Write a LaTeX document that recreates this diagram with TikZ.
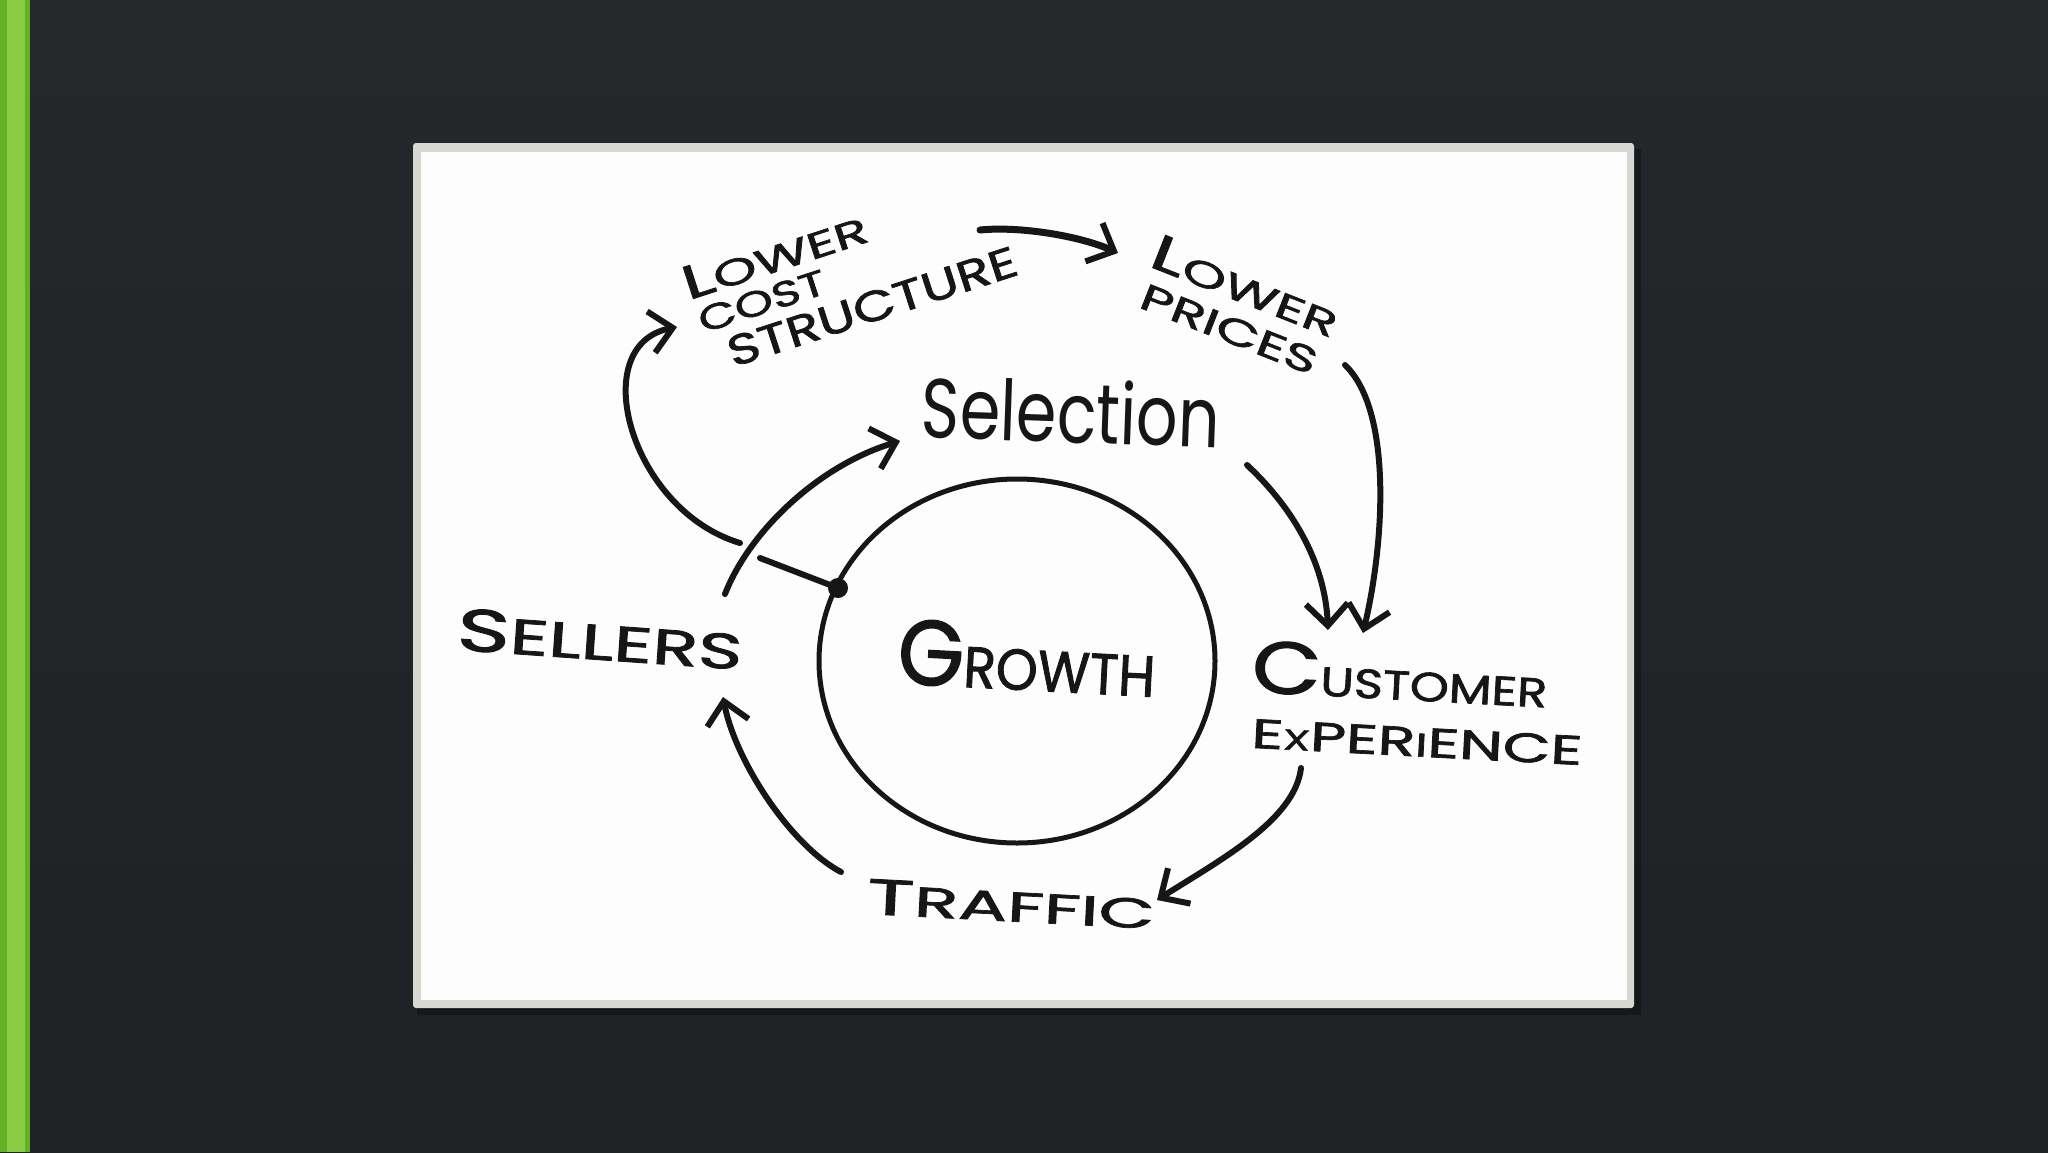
\documentclass[tikz,border=0pt]{standalone}
\usepackage{fontspec}
\usepackage{graphicx}
\setmainfont{Poppins}
\newfontfamily\handfont{Poppins}[FakeBold=1.6]
\newfontfamily\handthin{Poppins}
\usetikzlibrary{arrows.meta,shapes.geometric}
\definecolor{bgtop}{HTML}{25272B}
\definecolor{bgmid}{HTML}{2C2E32}
\definecolor{bgbot}{HTML}{1F2124}
\definecolor{greenA}{HTML}{62B223}
\definecolor{greenB}{HTML}{88CC44}
\definecolor{cardedge}{HTML}{D6D8D2}
\definecolor{paper}{HTML}{FDFDFD}
\definecolor{inkc}{HTML}{161616}
\newcommand\fitto[3]{\resizebox{#1pt}{#2pt}{#3}}
\begin{document}
\begin{tikzpicture}[x=1pt,y=-1pt,
  ink/.style={draw=inkc, line width=6pt, line cap=round, line join=round},
  arr/.style={ink, -{Straight Barb[length=22pt,width=42pt,line width=6pt]}},
  lbl/.style={inner sep=0pt, outer sep=0pt, text=inkc, font=\handfont},
  lblthin/.style={inner sep=0pt, outer sep=0pt, text=inkc, font=\handthin}]
% background
\useasboundingbox (0,0) rectangle (2048,1152);
\shade[top color=bgtop, middle color=bgmid, bottom color=bgbot] (0,0) rectangle (2048,1152);
\fill[greenA] (0,0) rectangle (30,1152);
\fill[greenB] (7,0) rectangle (25,1152);
% card
\fill[black, opacity=0.3] (417,149) rectangle (1641,1015);
\fill[cardedge, rounded corners=3pt] (413,143) rectangle (1634,1008);
\fill[paper] (421,152) rectangle (1627,1000);

% growth circle and dot
\node[draw=inkc, line width=5pt, ellipse, minimum width=396pt, minimum height=364pt, inner sep=0pt] (growth) at (1017,661) {};
\node[circle, fill=inkc, minimum size=20pt, inner sep=0pt] (dot) at (838,588) {};

% labels
\node[lbl, rotate=-3] (growthlbl) at (1027,658) {\fitto{258}{65}{{\fontsize{16}{16}\selectfont G}{\fontsize{10}{10}\selectfont ROWTH}}};
\node[lblthin, rotate=-2] (sel) at (1071,411) {\fitto{298}{64}{Selection}};
\node[lbl, rotate=-4] (sellers) at (600,639) {\fitto{286}{42}{{\fontsize{12}{12}\selectfont S}{\fontsize{10}{10}\selectfont ELLERS}}};
\node[lbl, rotate=-3] (cust) at (1400,674) {\fitto{296}{52}{{\fontsize{18}{18}\selectfont C}{\fontsize{10}{10}\selectfont USTOMER}}};
\node[lbl, rotate=-3] (exper) at (1417,742) {\fitto{331}{29}{E{\fontsize{7}{7}\selectfont X}PER{\fontsize{8}{8}\selectfont I}ENCE}};
\node[lbl, rotate=-3] (traffic) at (1011,904) {\fitto{288}{35}{{\fontsize{12}{12}\selectfont T}{\fontsize{10}{10}\selectfont RAFFIC}}};
\node[lbl, rotate=18, anchor=north west] (lcs) at (678,269) {%
  \begin{tabular}{@{}l@{}}
  \fitto{192}{33}{{\fontsize{13}{13}\selectfont L}{\fontsize{10}{10}\selectfont OWER}}\\[7.4pt]
  \hspace*{4pt}\fitto{132}{25}{COST}\\[8pt]
  \hspace*{22pt}\fitto{302}{30}{STRUCTURE}
  \end{tabular}};
\node[lbl, rotate=-21.5, anchor=north west] (lp) at (1160,233) {%
  \begin{tabular}{@{}l@{}}
  \fitto{198}{35}{{\fontsize{14}{14}\selectfont L}{\fontsize{10}{10}\selectfont OWER}}\\[12.4pt]
  \hspace*{6pt}\fitto{187}{26}{PRICES}
  \end{tabular}};

% connector end points
\coordinate (a1s) at (980,230);   \coordinate (a1e) at (1118,253);
\coordinate (a2s) at (1345,365);  \coordinate (a2e) at (1363,633);
\coordinate (a3s) at (1247,465);  \coordinate (a3e) at (1328,630);
\coordinate (a4s) at (1301,768);  \coordinate (a4e) at (1157,900);
\coordinate (a5s) at (841,872);   \coordinate (a5e) at (723,697);
\coordinate (a6s) at (725,594);   \coordinate (a6e) at (900,441);
\coordinate (a7a) at (760,558);   \coordinate (a7b) at (740,543);
\coordinate (a7e) at (677,327);

% connectors
\draw[arr, line width=7pt] (a1s) .. controls (1020,226) and (1080,236) .. (a1e);
\draw[arr] (a2s) .. controls (1392,410) and (1385,540) .. (a2e);
\draw[arr] (a3s) .. controls (1290,505) and (1325,560) .. (a3e);
\draw[arr] (a4s) .. controls (1295,820) and (1220,860) .. (a4e);
\draw[arr] (a5s) .. controls (790,845) and (735,760) .. (a5e);
\draw[arr] (a6s) .. controls (750,530) and (820,465) .. (a6e);
\draw[arr] (dot.center) -- (a7a) (a7b) .. controls (630,510) and (585,345) .. (a7e);
\end{tikzpicture}
\end{document}
